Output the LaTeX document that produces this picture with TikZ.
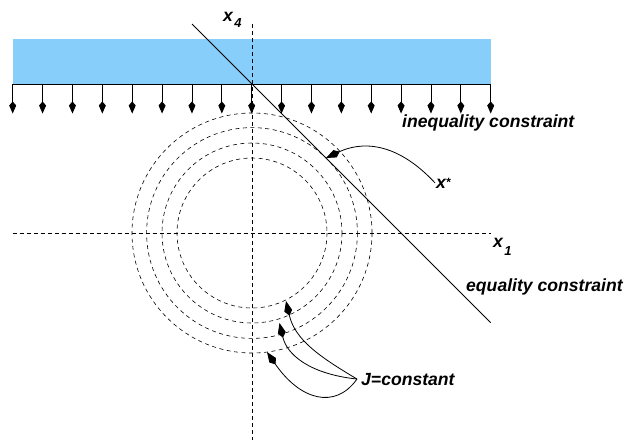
\documentclass[tikz,border=0pt]{standalone}
\usepackage{fontspec}
\setmainfont{Liberation Sans}
\usetikzlibrary{arrows.meta}
\definecolor{skyfill}{RGB}{135,206,250}

\begin{document}
\begin{tikzpicture}[x=1pt,y=-1pt,
  lbl/.style={anchor=base west, inner sep=0pt, font=\fontsize{17.6}{20}\selectfont\bfseries\itshape},
  axisline/.style={dash pattern=on 4pt off 3pt, line width=0.8pt},
  level/.style={dash pattern=on 4pt off 3.5pt, line width=0.6pt},
  pin/.style={line width=0.9pt, -{Kite[length=12pt,width=7pt,inset=4pt]}},
  callout/.style={line width=0.8pt, -{Kite[length=15pt,width=8pt,inset=5pt]}}]
\useasboundingbox (0,0) rectangle (628,440);

% inequality constraint region
\fill[skyfill] (12.7,39) rectangle (490.7,84);
\draw[line width=0.9pt] (12.7,84) -- (490.7,84);
\foreach \i in {0,...,16}
  \draw[pin] (12.7+29.875*\i,84) -- ++(0,29.5);

% axes
\draw[axisline] (252,24) -- (252,440);
\draw[axisline] (12.7,233) -- (490.7,233);
\node[lbl] (xfour) at (223,21) {x\hspace{1.5pt}\raisebox{-6pt}{\fontsize{13}{13}\selectfont 4}};
\node[lbl] (xone) at (493,247) {x\hspace{1.5pt}\raisebox{-8pt}{\fontsize{13}{13}\selectfont 1}};

% level sets of J
\foreach \r in {75,90,105.4,120}
  \draw[level] (252,233) circle[radius=\r];

% equality constraint
\draw[line width=0.8pt] (192,24) -- (490.7,322.7);

\node[lbl] (ineq) at (402,127) {inequality constraint};
\node[lbl] (eq) at (466,291) {equality constraint};
\node[lbl] (xs) at (436,188) {x\raisebox{2pt}{\fontsize{12}{12}\selectfont *}};
\node[lbl] (Jc) at (361,385) {J=constant};

\coordinate (xopt) at (326,158);
\coordinate (lvlA) at (286,301);
\coordinate (lvlB) at (279.5,323);
\coordinate (lvlC) at (267,352);

\draw[callout] ([xshift=-1pt]xs.west) .. controls (395,140) and (360,142) .. (xopt);
\draw[callout] ([xshift=-4pt]Jc.west) .. controls (320,357) and (295,340) .. (lvlA);
\draw[callout] ([xshift=-4pt]Jc.west) .. controls (310,374) and (287,355) .. (lvlB);
\draw[callout] ([xshift=-4pt]Jc.west) .. controls (335,410) and (300,400) .. (lvlC);
\end{tikzpicture}
\end{document}
